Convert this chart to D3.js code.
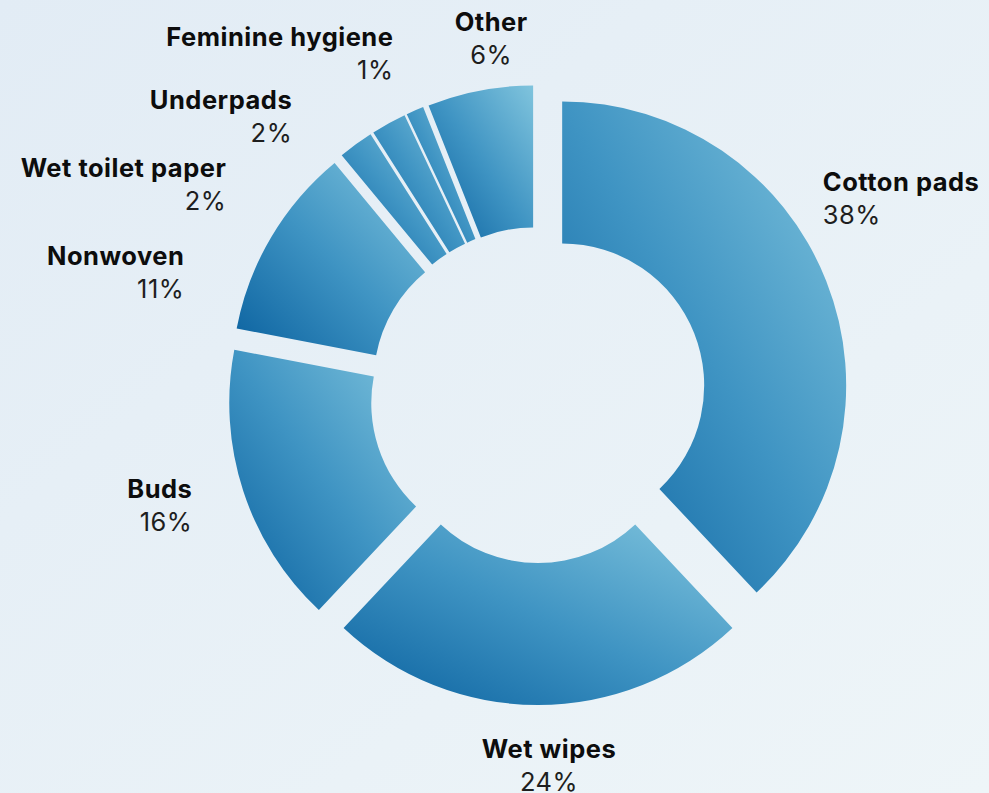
<!DOCTYPE html>
<html>
<head>
<meta charset="utf-8">
<script src="https://cdn.jsdelivr.net/npm/d3@7"></script>
<style>
  html, body { margin: 0; padding: 0; }
  svg { display: block; font-family: Inter, "Noto Sans", sans-serif; }
  .name { font-weight: 700; fill: #0d0d0d; letter-spacing: 0.5px; }
  .pct { font-weight: 400; fill: #1e1e1e; letter-spacing: 0.5px; }
</style>
</head>
<body>
<svg id="chart"></svg>
<script>
// data
var categories = ["Cotton pads","Wet wipes","Buds","Nonwoven","Wet toilet paper","Underpads","Feminine hygiene","Other"];
var shares = [38,24,16,11,2,2,1,6];

// label nudges so the small ones don't pile up (degrees / px off the mid angle spot)
var labelTurn = [-13,-1.7,0.2,-11.6,-20,-12.7,0.4,3.3];
var labelPull = [-24,1,-7,4,6,1,0,-11];

var screen = {width:989,height:793};
var center = {x:538,y:395};
var outerR = 284, innerR = 142, explode = 26, labelR = 370;

var svg = d3.select("#chart")
    .attr("width",screen.width)
    .attr("height",screen.height);

var defs = svg.append("defs");

var bg = defs.append("linearGradient")
    .attr("id","bg")
    .attr("x1",0).attr("y1",0).attr("x2",1).attr("y2",1);
bg.append("stop").attr("offset",0).attr("stop-color","#e2ecf5");
bg.append("stop").attr("offset",1).attr("stop-color","#eef5f8");

// each slice gets the gradient over its own box, dark bottom-left to light top-right
var sliceGrad = defs.append("linearGradient")
    .attr("id","slice")
    .attr("x1",0).attr("y1",1).attr("x2",1).attr("y2",0);
sliceGrad.append("stop").attr("offset",0).attr("stop-color","#0a619f");
sliceGrad.append("stop").attr("offset",0.5).attr("stop-color","#3f94c3");
sliceGrad.append("stop").attr("offset",1).attr("stop-color","#80c4dd");

svg.append("rect")
    .attr("width",screen.width)
    .attr("height",screen.height)
    .attr("fill","url(#bg)");

var rows = categories.map(function(c,i){
    return {name:c, value:shares[i], turn:labelTurn[i], pull:labelPull[i]};
});

var pie = d3.pie()
    .sort(null)
    .value(function(d){ return d.value; });

var arc = d3.arc()
    .innerRadius(innerR)
    .outerRadius(outerR);

var slices = pie(rows);

var target = svg.append("g")
    .attr("transform","translate("+center.x+","+center.y+")");

target.selectAll("path")
    .data(slices)
    .enter()
    .append("path")
    .attr("d",arc)
    .attr("fill","url(#slice)")
    .attr("transform",function(s){
        var mid = (s.startAngle+s.endAngle)/2;
        return "translate("+(explode*Math.sin(mid))+","+(-explode*Math.cos(mid))+")";
    });

//Labels
var labels = target.selectAll(".lab")
    .data(slices)
    .enter()
    .append("g")
    .classed("lab",true)
    .attr("transform",function(s){
        var a = (s.startAngle+s.endAngle)/2 + s.data.turn*Math.PI/180;
        var r = labelR + s.data.pull;
        s.ang = a;
        return "translate("+(r*Math.sin(a))+","+(-r*Math.cos(a))+")";
    });

var anchorOf = function(s){
    var sn = Math.sin(s.ang);
    if(Math.abs(sn) < 0.15) return "middle";
    return sn > 0 ? "start" : "end";
};

labels.append("text")
    .classed("name",true)
    .attr("text-anchor",anchorOf)
    .attr("y",-8)
    .style("font-size","25.5px")
    .text(function(s){ return s.data.name; });

labels.append("text")
    .classed("pct",true)
    .attr("text-anchor",anchorOf)
    .attr("y",25)
    .style("font-size","25.5px")
    .text(function(s){ return s.data.value+"%"; });
</script>
</body>
</html>
